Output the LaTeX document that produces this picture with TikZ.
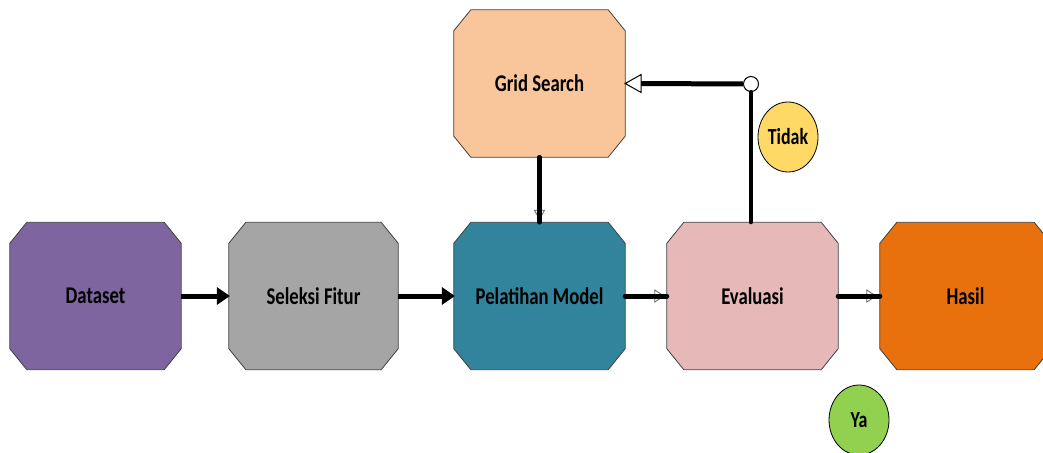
\documentclass[tikz,border=0pt]{standalone}
\usepackage{fontspec}
\setmainfont{Carlito}
\usetikzlibrary{shapes.geometric}
\definecolor{cpurple}{HTML}{7F659F}
\definecolor{cgray}{HTML}{A5A5A5}
\definecolor{cteal}{HTML}{31849B}
\definecolor{cpink}{HTML}{E6B9B8}
\definecolor{corange}{HTML}{E8710E}
\definecolor{cpeach}{HTML}{F9C59A}
\definecolor{cyellow}{HTML}{FFD966}
\definecolor{cgreen}{HTML}{92D050}
\definecolor{cedge}{HTML}{404040}
\newcommand{\lbl}[2][24]{\scalebox{0.78}[1]{\fontsize{#1}{#1}\selectfont\bfseries #2}}
\newcommand{\chamf}[2]{%
  \filldraw[fill=#2, draw=cedge, line width=0.8pt, line join=miter]
    ([xshift=17pt]#1.north west) -- ([xshift=-17pt]#1.north east) --
    ([yshift=-21pt]#1.north east) -- ([yshift=21pt]#1.south east) --
    ([xshift=-17pt]#1.south east) -- ([xshift=17pt]#1.south west) --
    ([yshift=21pt]#1.south west) -- ([yshift=-21pt]#1.north west) -- cycle;}
\tikzset{
  stepbox/.style={rectangle, minimum width=171pt, minimum height=147pt, inner sep=0pt},
  badge/.style={ellipse, draw=black, line width=0.8pt, minimum width=60pt, minimum height=70pt, inner sep=0pt},
  thickline/.style={line width=5pt, black},
  openhd/.style={draw=gray!80!black, fill=white, line width=0.8pt, line join=miter},
}
\begin{document}
\begin{tikzpicture}[x=1pt,y=-1pt]
\useasboundingbox (0,0) rectangle (1043,452);
\clip (0,0) rectangle (1043,452);
% box frames
\node[stepbox] (ds) at (95.5,296) {};
\node[stepbox, minimum width=169pt] (sf) at (313.5,296) {};
\node[stepbox] (pm) at (539.5,296) {};
\node[stepbox] (ev) at (752.5,296) {};
\node[stepbox] (hs) at (965.5,296) {};
\node[stepbox] (gs) at (539.5,83.5) {};
\chamf{ds}{cpurple}
\chamf{sf}{cgray}
\chamf{pm}{cteal}
\chamf{ev}{cpink}
\chamf{hs}{corange}
\chamf{gs}{cpeach}
\node (dsT) at (ds) {\lbl{Dataset}};
\node (sfT) at (sf) {\lbl{Seleksi Fitur}};
\node (pmT) at (pm) {\lbl{Pelatihan Model}};
\node (evT) at (ev) {\lbl{Evaluasi}};
\node (hsT) at (hs) {\lbl{Hasil}};
\node (gsT) at (gs) {\lbl{Grid Search}};
\node[badge, fill=cyellow, minimum width=60pt] (td) at (788,137) {\lbl[23]{Tidak}};
\node[badge, fill=cgreen] (ya) at (859,420) {\lbl[23]{Ya}};
\node[circle, draw=black, fill=white, line width=1pt, minimum width=13pt, minimum height=15pt, inner sep=0pt] (jn) at (751,84) {};
% Dataset -> Seleksi
\draw[thickline] (ds.east) -- ([xshift=-10pt]sf.west);
\fill ([xshift=1pt]sf.west) -- ++(-13,-9) -- ++(0,18) -- cycle;
% Seleksi -> Pelatihan
\draw[thickline] (sf.east) -- ([xshift=-10pt]pm.west);
\fill ([xshift=1pt]pm.west) -- ++(-13,-9) -- ++(0,18) -- cycle;
% Pelatihan -> Evaluasi
\draw[openhd] ([xshift=-3pt]ev.west) -- ++(-9,-6) -- ++(0,12) -- cycle;
\draw[thickline, line cap=round] (pm.east) -- (ev.west);
% Evaluasi -> Hasil
\draw[openhd] ([xshift=-4pt]hs.west) -- ++(-9,-6) -- ++(0,12) -- cycle;
\draw[thickline, line cap=round] (ev.east) -- (hs.west);
% Grid Search -> Pelatihan
\draw[openhd] ([yshift=3pt]pm.north) -- ++(-5,-9) -- ++(10,0) -- cycle;
\draw[line width=4.5pt, line cap=round] (gs.south) -- (pm.north);
% Evaluasi -> junction -> Grid Search
\draw[line width=4pt, line cap=round] (ev.north -| jn) -- (jn.south);
\draw[line width=5pt] (jn.west) -- ([xshift=14pt]gs.east);
\draw[line width=1pt, fill=white, line join=miter] (gs.east) -- ++(16,-9) -- ++(0,18) -- cycle;
\end{tikzpicture}
\end{document}
